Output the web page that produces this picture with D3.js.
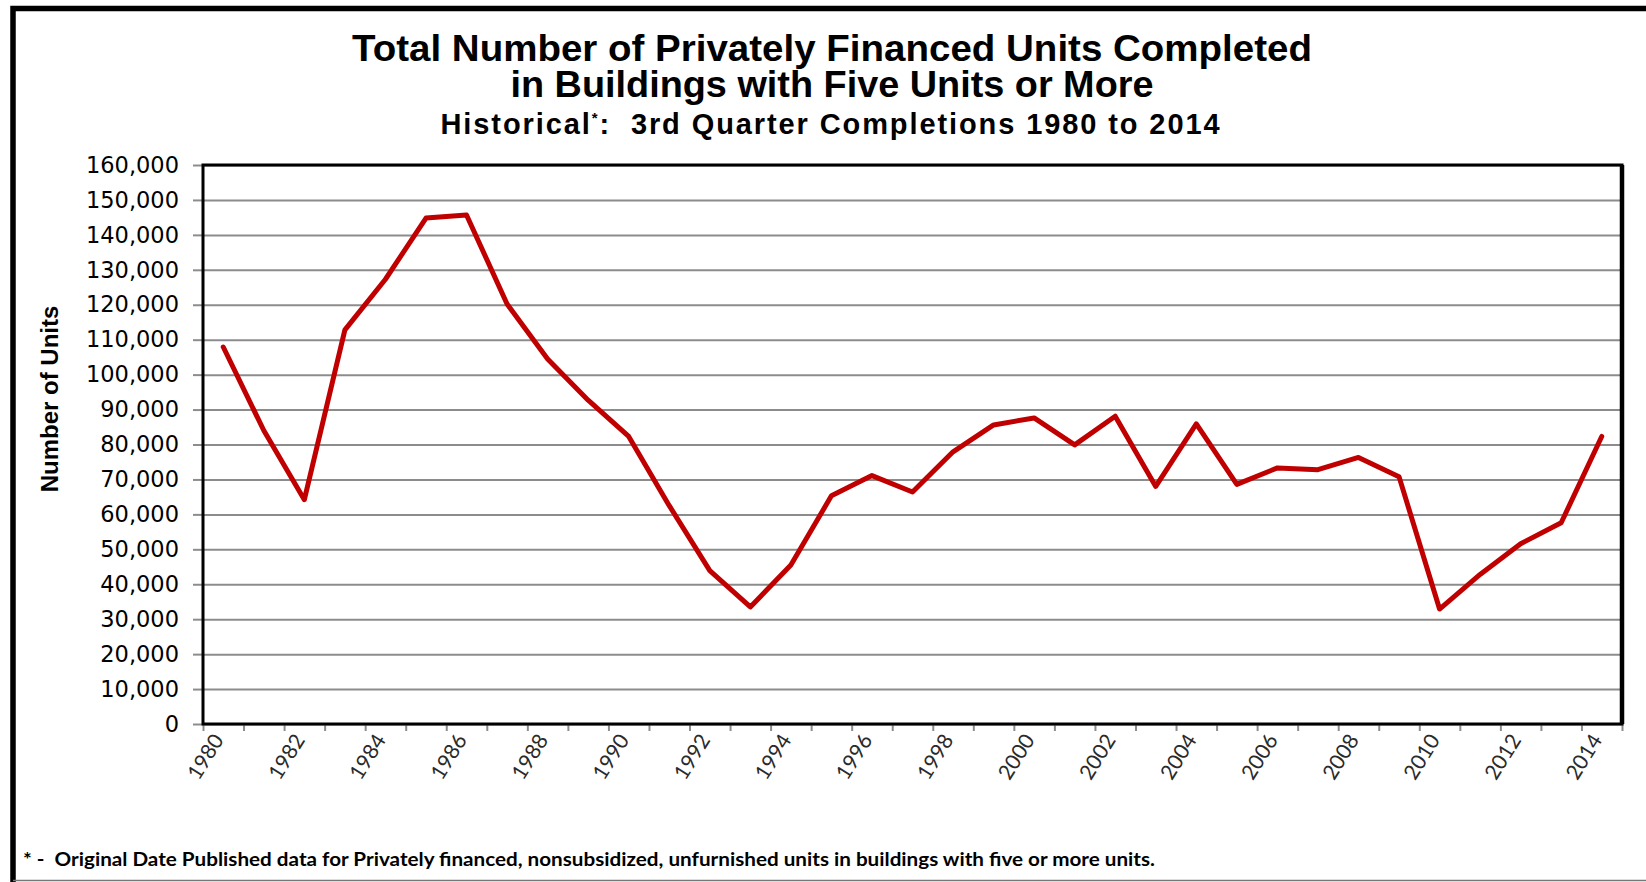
<!DOCTYPE html>
<html>
<head>
<meta charset="utf-8">
<script src="https://cdn.jsdelivr.net/npm/d3@7"></script>
<style>
    body { margin: 0; background: #fff; }
    svg { display: block; }
    text { white-space: pre; }
</style>
</head>
<body>
<div id="chart"></div>
<script>

// data
const years = [1980, 1981, 1982, 1983, 1984, 1985, 1986, 1987, 1988, 1989,
               1990, 1991, 1992, 1993, 1994, 1995, 1996, 1997, 1998, 1999,
               2000, 2001, 2002, 2003, 2004, 2005, 2006, 2007, 2008, 2009,
               2010, 2011, 2012, 2013, 2014];
const completions = [107900, 84000, 64200, 112800, 127300, 144800, 145700, 120200, 104500, 92700,
                     82300, 62500, 43900, 33500, 45500, 65300, 71100, 66400, 77900, 85600,
                     87600, 79900, 88100, 68000, 85900, 68600, 73300, 72800, 76300, 70800,
                     32900, 42800, 51600, 57600, 82300];
const yTicks = [0, 10000, 20000, 30000, 40000, 50000, 60000, 70000, 80000,
                90000, 100000, 110000, 120000, 130000, 140000, 150000, 160000];
const labelYears = [1980, 1982, 1984, 1986, 1988, 1990, 1992, 1994, 1996,
                    1998, 2000, 2002, 2004, 2006, 2008, 2010, 2012, 2014];
const titleLines = ["Total Number of Privately Financed Units Completed",
                    "in Buildings with Five Units or More"];
const titleWidths = [960, 643];
const footnote = "* -  Original Date Published data for Privately financed, nonsubsidized, unfurnished units in buildings with five or more units.";

let W = 1646, H = 882;
let margin = {top: 165, right: 24, bottom: 158, left: 203};
let width = W - margin.left - margin.right;
let height = H - margin.top - margin.bottom;

let svg = d3.select("#chart").append("svg")
    .attr("width", W)
    .attr("height", H);

// outer frame (black top + left, thin gray bottom)
svg.append("path")
    .attr("d", "M13,882 L13,8.5 L1646,8.5")
    .attr("fill", "none")
    .attr("stroke", "#000")
    .attr("stroke-width", 5.5);
svg.append("line")
    .attr("x1", 13).attr("x2", 1646)
    .attr("y1", 880.5).attr("y2", 880.5)
    .attr("stroke", "#777")
    .attr("stroke-width", 1.5);

// title, two lines in one text block
let title = svg.append("text")
    .attr("class", "title")
    .attr("text-anchor", "middle")
    .style("font-family", "'Liberation Sans', Arial, sans-serif")
    .style("font-weight", "bold")
    .style("font-size", "36px");
title.selectAll("tspan")
    .data(titleLines)
    .enter()
    .append("tspan")
    .attr("x", 832)
    .attr("y", (d, i) => 61 + i * 36)
    .attr("textLength", (d, i) => titleWidths[i])
    .attr("lengthAdjust", "spacingAndGlyphs")
    .text(d => d);

let sub = svg.append("text")
    .attr("x", 831)
    .attr("y", 134)
    .attr("text-anchor", "middle")
    .style("font-family", "'Liberation Sans', Arial, sans-serif")
    .style("font-weight", "bold")
    .style("font-size", "29px")
    .style("letter-spacing", "1.9px");
sub.append("tspan").text("Historical");
sub.append("tspan").attr("dy", -11).style("font-size", "15px").text("*");
sub.append("tspan").attr("dy", 11).text(":  3rd Quarter Completions 1980 to 2014");

let g = svg.append("g")
    .attr("transform", "translate(" + margin.left + "," + margin.top + ")");

// scales
let x = d3.scaleBand()
    .domain(years)
    .range([0, width])
    .padding(0);
let xEdges = d3.scaleLinear()
    .domain([0, years.length])
    .range([0, width]);
let y = d3.scaleLinear()
    .domain([0, 160000])
    .range([height, 0]);

// gridlines
g.append("g")
    .attr("class", "grid")
    .call(d3.axisLeft(y).tickValues(yTicks).tickSize(-width).tickFormat(""))
    .call(s => s.select(".domain").remove())
    .selectAll("line")
    .attr("stroke", "#8c8c8c")
    .attr("stroke-width", 2);

// y axis
let yAxis = g.append("g")
    .attr("class", "y-axis")
    .call(d3.axisLeft(y).tickValues(yTicks).tickSize(10).tickPadding(14).tickFormat(d3.format(",")));
yAxis.select(".domain").remove();
yAxis.selectAll("line").attr("stroke", "#8c8c8c").attr("stroke-width", 2);
yAxis.selectAll("text")
    .attr("fill", "#000")
    .style("font-family", "'DejaVu Sans', Verdana, sans-serif")
    .style("font-size", "22.5px");

// x axis tick marks on category edges
let edgeTicks = [];
for (let i = 0; i <= years.length; i++) edgeTicks.push(i);
let xTicks = g.append("g")
    .attr("transform", "translate(0," + height + ")")
    .call(d3.axisBottom(xEdges).tickValues(edgeTicks).tickSize(7).tickFormat(""));
xTicks.select(".domain").remove();
xTicks.selectAll("line").attr("stroke", "#8c8c8c").attr("stroke-width", 2);

// x axis labels
let xAxis = g.append("g")
    .attr("transform", "translate(0," + height + ")")
    .call(d3.axisBottom(x).tickValues(labelYears).tickSize(0).tickPadding(0));
xAxis.select(".domain").remove();
xAxis.selectAll("text")
    .attr("x", 0)
    .attr("y", 0)
    .attr("dy", "0.35em")
    .attr("text-anchor", "end")
    .attr("transform", "translate(-5,12) rotate(-58)")
    .attr("fill", "#2a2a2a")
    .style("font-family", "Lato, 'Open Sans', sans-serif")
    .style("font-size", "21px");

// plot area border
g.append("rect")
    .attr("x", 0).attr("y", 0)
    .attr("width", width).attr("height", height)
    .attr("fill", "none")
    .attr("stroke", "#000")
    .attr("stroke-width", 3);
g.append("line")
    .attr("x1", width).attr("x2", width)
    .attr("y1", 0).attr("y2", height)
    .attr("stroke", "#000")
    .attr("stroke-width", 4.5);

// the series line
let series = years.map((yr, i) => ({year: yr, value: completions[i]}));
let line = d3.line()
    .x(d => x(d.year) + x.bandwidth() / 2)
    .y(d => y(d.value));
g.append("path")
    .datum(series)
    .attr("fill", "none")
    .attr("stroke", "#c00000")
    .attr("stroke-width", 5)
    .attr("stroke-linejoin", "round")
    .attr("stroke-linecap", "round")
    .attr("d", line);

// y axis title
svg.append("text")
    .attr("transform", "translate(58,399) rotate(-90)")
    .attr("text-anchor", "middle")
    .style("font-family", "'Liberation Sans', Arial, sans-serif")
    .style("font-weight", "bold")
    .style("font-size", "24px")
    .text("Number of Units");

// footnote
svg.append("text")
    .attr("x", 23)
    .attr("y", 866)
    .attr("textLength", 1132)
    .attr("lengthAdjust", "spacingAndGlyphs")
    .style("font-family", "Lato, 'Open Sans', sans-serif")
    .style("font-weight", "bold")
    .style("font-size", "18px")
    .text(footnote);

</script>
</body>
</html>
